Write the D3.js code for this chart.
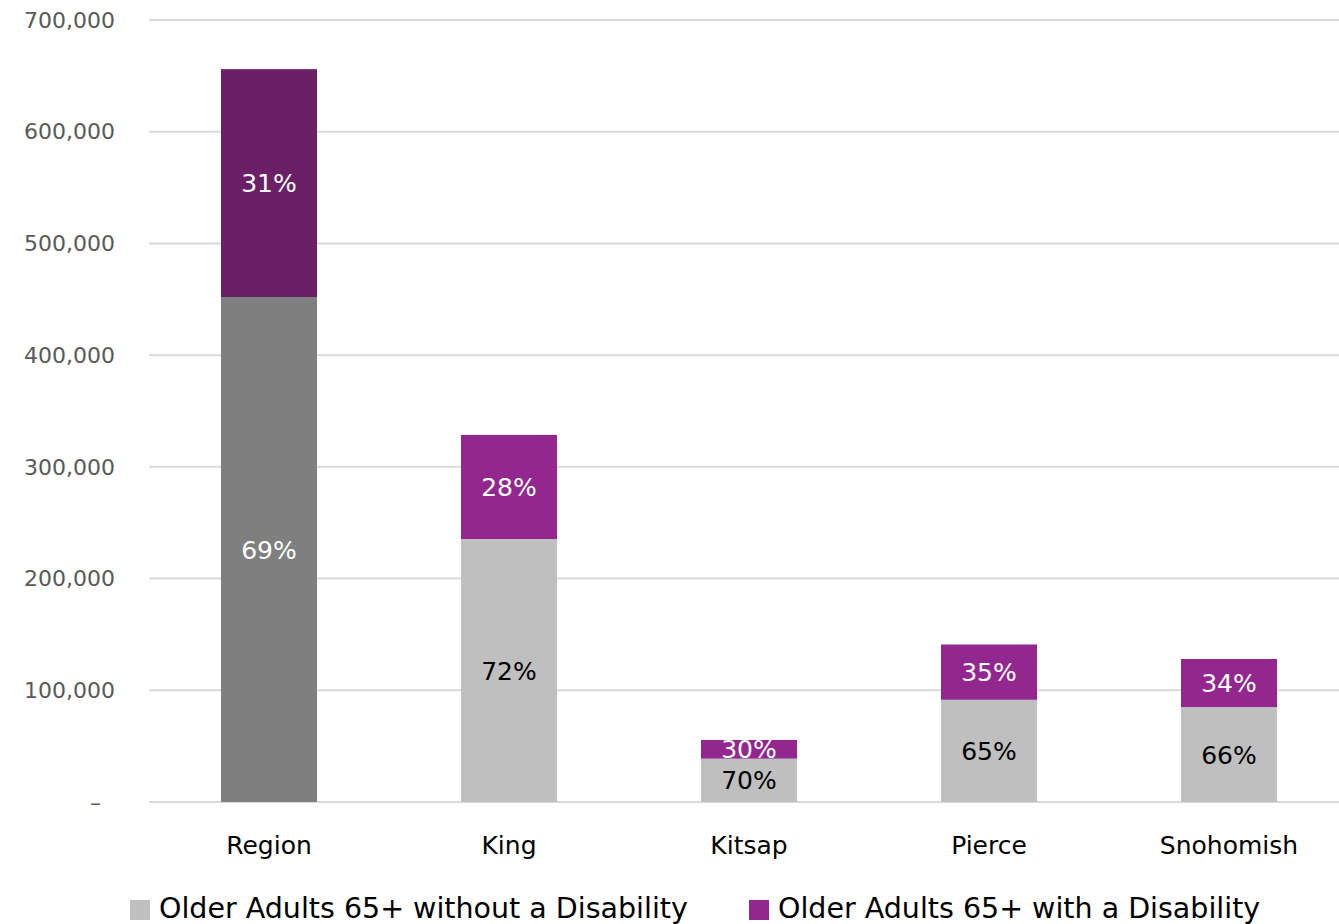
<!DOCTYPE html>
<html>
<head>
<meta charset="utf-8">
<script src="https://cdn.jsdelivr.net/npm/d3@7"></script>
<style>
  html, body { margin: 0; padding: 0; background: #fff; }
  svg { display: block; font-family: "DejaVu Sans", "Noto Sans", sans-serif; }
</style>
</head>
<body>
<svg id="chart" width="1339" height="924"></svg>
<script>
// Older adults 65+ by county, split by disability status
const categories = ["Region", "King", "Kitsap", "Pierce", "Snohomish"];
const withoutDisability = [452000, 235400, 38800, 91500, 85000];
const withDisability = [204000, 93200, 16700, 49500, 43000];
const yTicks = [0, 100000, 200000, 300000, 400000, 500000, 600000, 700000];
const seriesNames = ["Older Adults 65+ without a Disability", "Older Adults 65+ with a Disability"];

const svg = d3.select("#chart");
const W = 1339, H = 924;
const plot = { left: 149, right: 1349, top: 20, bottom: 802 };

const x = d3.scaleBand()
  .domain(categories)
  .range([plot.left, plot.right])
  .paddingInner(0.6)
  .paddingOuter(0.3);

const y = d3.scaleLinear()
  .domain([0, 700000])
  .range([plot.bottom, plot.top]);

// Gridlines
svg.append("g")
  .selectAll("line")
  .data(yTicks)
  .join("line")
  .attr("x1", plot.left)
  .attr("x2", W)
  .attr("y1", d => y(d))
  .attr("y2", d => y(d))
  .attr("stroke", "#d9d9d9")
  .attr("stroke-width", 2);

// Y-axis labels
const fmt = d3.format(",");
svg.append("g")
  .selectAll("text")
  .data(yTicks)
  .join("text")
  .attr("x", d => d === 0 ? 101 : 115)
  .attr("y", d => y(d))
  .attr("dy", "0.35em")
  .attr("text-anchor", "end")
  .attr("fill", "#595959")
  .attr("font-size", 22)
  .text(d => d === 0 ? "–" : fmt(d));

// Stacked bars
const rows = categories.map((c, i) => ({
  cat: c,
  lo: withoutDisability[i],
  hi: withDisability[i],
  total: withoutDisability[i] + withDisability[i],
  isRegion: c === "Region"
}));

const colors = {
  lo: "#bfbfbf", hi: "#92278f",
  loRegion: "#7f7f7f", hiRegion: "#6a1f66"
};

const gBars = svg.append("g");
rows.forEach(r => {
  const bx = x(r.cat), bw = x.bandwidth();
  // without disability
  gBars.append("rect")
    .attr("x", bx).attr("width", bw)
    .attr("y", y(r.lo)).attr("height", y(0) - y(r.lo))
    .attr("fill", r.isRegion ? colors.loRegion : colors.lo);
  // with disability
  gBars.append("rect")
    .attr("x", bx).attr("width", bw)
    .attr("y", y(r.total)).attr("height", y(r.lo) - y(r.total))
    .attr("fill", r.isRegion ? colors.hiRegion : colors.hi);

  const pLo = Math.round(100 * r.lo / r.total);
  const pHi = Math.round(100 * r.hi / r.total);
  gBars.append("text")
    .attr("x", bx + bw / 2)
    .attr("y", (y(0) + y(r.lo)) / 2)
    .attr("dy", "0.36em")
    .attr("text-anchor", "middle")
    .attr("font-size", 25)
    .attr("fill", r.isRegion ? "#fff" : "#000")
    .text(pLo + "%");
  gBars.append("text")
    .attr("x", bx + bw / 2)
    .attr("y", (y(r.lo) + y(r.total)) / 2)
    .attr("dy", "0.36em")
    .attr("text-anchor", "middle")
    .attr("font-size", 25)
    .attr("fill", "#fff")
    .text(pHi + "%");
});

// Category labels
svg.append("g")
  .selectAll("text")
  .data(categories)
  .join("text")
  .attr("x", d => x(d) + x.bandwidth() / 2)
  .attr("y", 854)
  .attr("text-anchor", "middle")
  .attr("font-size", 25)
  .attr("fill", "#000")
  .text(d => d);

// Legend
const legend = [
  { name: seriesNames[0], color: colors.lo, x: 130 },
  { name: seriesNames[1], color: colors.hi, x: 749 }
];
const lg = svg.append("g");
legend.forEach(l => {
  lg.append("rect")
    .attr("x", l.x).attr("y", 900)
    .attr("width", 20).attr("height", 20)
    .attr("fill", l.color);
  lg.append("text")
    .attr("x", l.x + 29).attr("y", 918)
    .attr("font-size", 28.5)
    .attr("fill", "#000")
    .text(l.name);
});
</script>
</body>
</html>
